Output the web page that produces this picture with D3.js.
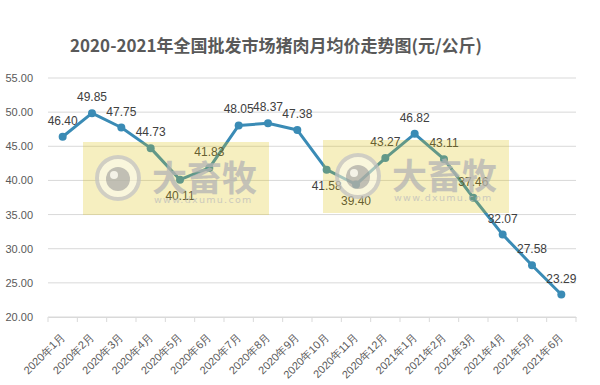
<!DOCTYPE html>
<html>
<head>
<meta charset="utf-8">
<script src="https://cdn.jsdelivr.net/npm/d3@7"></script>
<style>
  body { margin: 0; background: #fff; }
  svg { font-family: "Noto Sans CJK SC", "Noto Sans", sans-serif; }
</style>
</head>
<body>
<svg id="drawing_region"></svg>
<script>
// data
const months = ['2020年1月','2020年2月','2020年3月','2020年4月','2020年5月','2020年6月',
    '2020年7月','2020年8月','2020年9月','2020年10月','2020年11月','2020年12月',
    '2021年1月','2021年2月','2021年3月','2021年4月','2021年5月','2021年6月'];
const prices = [46.40, 49.85, 47.75, 44.73, 40.11, 41.83, 48.05, 48.37, 47.38,
    41.58, 39.40, 43.27, 46.82, 43.11, 37.46, 32.07, 27.58, 23.29];
const labelBelow = ['2020年5月', '2020年10月', '2020年11月'];
const yTicks = [20, 25, 30, 35, 40, 45, 50, 55];
const title = '2020-2021年全国批发市场猪肉月均价走势图(元/公斤)';

const width = 600, height = 385;
const margin = {top: 78, right: 24, bottom: 68, left: 48};
const inner_width = width - margin.left - margin.right;
const inner_height = height - margin.top - margin.bottom;

const svg = d3.select('#drawing_region')
    .attr('width', width)
    .attr('height', height);

svg.append('text')
    .attr('x', 276)
    .attr('y', 52)
    .attr('text-anchor', 'middle')
    .style('font-size', '17px')
    .style('font-weight', 'bold')
    .attr('fill', '#595959')
    .text(title);

const chart = svg.append('g')
    .attr('transform', `translate(${margin.left}, ${margin.top})`);

const xscale = d3.scaleBand()
    .domain(months)
    .range([0, inner_width]);

const yscale = d3.scaleLinear()
    .domain([20, 55])
    .range([inner_height, 0]);

// grid lines
chart.append('g')
    .selectAll('line')
    .data(yTicks)
    .join('line')
    .attr('x1', 0)
    .attr('x2', inner_width)
    .attr('y1', d => yscale(d))
    .attr('y2', d => yscale(d))
    .attr('stroke', '#d9d9d9')
    .attr('stroke-width', 1);

// y axis labels
const yaxis = d3.axisLeft(yscale)
    .tickValues(yTicks)
    .tickFormat(d3.format('.2f'))
    .tickSize(0)
    .tickPadding(15);

const yaxis_group = chart.append('g').call(yaxis);
yaxis_group.select('.domain').remove();
yaxis_group.selectAll('text')
    .attr('fill', '#595959')
    .style('font-family', '"Liberation Sans", sans-serif')
    .style('font-size', '11px');

// x axis
const xaxis = d3.axisBottom(xscale)
    .tickSize(0);

const xaxis_group = chart.append('g')
    .attr('transform', `translate(0, ${inner_height})`)
    .call(xaxis);
xaxis_group.select('.domain').attr('stroke', '#d9d9d9');
xaxis_group.selectAll('text')
    .attr('fill', '#595959')
    .style('font-size', '11px')
    .attr('text-anchor', 'end')
    .attr('x', 0)
    .attr('y', 0)
    .attr('dy', '0.35em')
    .attr('transform', 'translate(0, 18) rotate(-45)');

// tick marks at band edges
chart.append('g')
    .selectAll('line')
    .data(months.concat(['end']))
    .join('line')
    .attr('x1', (d, i) => i * xscale.step())
    .attr('x2', (d, i) => i * xscale.step())
    .attr('y1', inner_height)
    .attr('y2', inner_height + 5)
    .attr('stroke', '#d9d9d9');

const cx = d => xscale(d) + xscale.bandwidth() / 2;

const line = d3.line()
    .x((d, i) => cx(months[i]))
    .y(d => yscale(d));

chart.append('path')
    .datum(prices)
    .attr('fill', 'none')
    .attr('stroke', '#3a8bb5')
    .attr('stroke-width', 3)
    .attr('stroke-linejoin', 'round')
    .attr('d', line);

chart.append('g')
    .selectAll('circle')
    .data(prices)
    .join('circle')
    .attr('cx', (d, i) => cx(months[i]))
    .attr('cy', d => yscale(d))
    .attr('r', 4)
    .attr('fill', '#3a8bb5');

// watermark overlays (semi-transparent, over the line)
function watermark(x, y) {
    const g = svg.append('g').attr('transform', `translate(${x}, ${y})`);
    g.append('rect')
        .attr('width', 186)
        .attr('height', 73)
        .attr('fill', '#dbbf03')
        .attr('fill-opacity', 0.25);
    const logo = g.append('g').attr('opacity', 0.75);
    logo.append('circle')
        .attr('cx', 35).attr('cy', 36).attr('r', 21)
        .attr('fill', '#ffffff')
        .attr('fill-opacity', 0.6)
        .attr('stroke', '#c4c4c4')
        .attr('stroke-width', 4);
    logo.append('circle')
        .attr('cx', 35).attr('cy', 37).attr('r', 12)
        .attr('fill', '#b0b0b0');
    logo.append('circle')
        .attr('cx', 31).attr('cy', 33).attr('r', 4)
        .attr('fill', '#f4f4f4');
    logo.append('text')
        .attr('x', 69).attr('y', 49)
        .attr('fill', '#b4b4b4')
        .style('font-size', '35px')
        .style('font-weight', 'bold')
        .text('大畜牧');
    logo.append('text')
        .attr('x', 71).attr('y', 61)
        .attr('fill', '#bdbdbd')
        .style('font-family', '"DejaVu Sans", sans-serif')
        .style('font-size', '9.5px')
        .style('letter-spacing', '1.3px')
        .text('www.dxumu.com');
}
watermark(83, 142);
watermark(323, 140);

// data labels on top
chart.append('g')
    .selectAll('text')
    .data(prices)
    .join('text')
    .attr('x', (d, i) => cx(months[i]))
    .attr('y', (d, i) => yscale(d) + (labelBelow.includes(months[i]) ? 20 : -12))
    .attr('text-anchor', 'middle')
    .attr('fill', '#404040')
    .style('font-family', '"Liberation Sans", sans-serif')
    .style('font-size', '12px')
    .text(d => d.toFixed(2));
</script>
</body>
</html>
